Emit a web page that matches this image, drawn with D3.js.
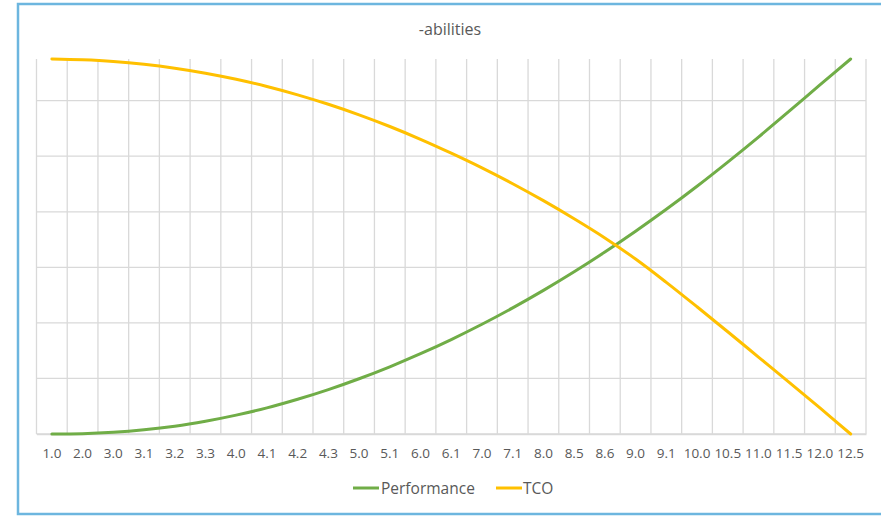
<!DOCTYPE html>
<html><head><meta charset="utf-8">
<script src="https://cdn.jsdelivr.net/npm/d3@7"></script>
<style>body{margin:0;background:#fff}svg{display:block}</style>
</head><body>
<svg id="c" width="881" height="517"></svg>
<script>
const title = "-abilities";
const categories = ["1.0","2.0","3.0","3.1","3.2","3.3","4.0","4.1","4.2","4.3","5.0","5.1","6.0","6.1","7.0","7.1","8.0","8.5","8.6","9.0","9.1","10.0","10.5","11.0","11.5","12.0","12.5"];
const performance = [0,0.01,0.06,0.15,0.28,0.46,0.68,0.94,1.25,1.60,1.99,2.42,2.89,3.40,3.95,4.54,5.17,5.84,6.55,7.30,8.09,8.92,9.79,10.69,11.62,12.57,13.5];
const tco = [13.5,13.47,13.41,13.31,13.17,12.99,12.77,12.51,12.21,11.87,11.49,11.07,10.61,10.11,9.58,9.01,8.40,7.75,7.06,6.30,5.46,4.58,3.68,2.77,1.86,0.94,0];
const yTicks = [0,2,4,6,8,10,12];
const seriesNames = ["Performance","TCO"];
const colors = ["#70ad47","#ffc000"];

const svg = d3.select("#c");
const font = "'Open Sans', sans-serif";

svg.append("rect").attr("x",18).attr("y",4).attr("width",900).attr("height",510)
  .attr("fill","#fff").attr("stroke","#6db6df").attr("stroke-width",2.5);

const x = d3.scaleBand().domain(categories).range([36.5,866]).padding(0);
const y = d3.scaleLinear().domain([0,13.5]).range([434,59]);

svg.append("text").attr("x",450).attr("y",35).attr("text-anchor","middle")
  .attr("font-family",font).attr("font-size",16).attr("fill","#595959").text(title);

const g = svg.append("g");
g.selectAll(".hg").data(yTicks).join("line")
  .attr("x1",36.5).attr("x2",866).attr("y1",d=>y(d)).attr("y2",d=>y(d))
  .attr("stroke","#d9d9d9").attr("stroke-width",1.3);
const bounds = categories.map(c=>x(c)).concat([x(categories[categories.length-1])+x.bandwidth()]);
g.selectAll(".vg").data(bounds).join("line")
  .attr("x1",d=>d).attr("x2",d=>d).attr("y1",y(13.5)).attr("y2",y(0))
  .attr("stroke","#d9d9d9").attr("stroke-width",1.3);

const xAxis = d3.axisBottom(x).tickSize(0).tickPadding(14);
const ax = svg.append("g").attr("transform",`translate(0,${y(0)})`).call(xAxis);
ax.select(".domain").attr("stroke","#d9d9d9").attr("stroke-width",1.3);
ax.selectAll("text").attr("font-family",font).attr("font-size",13.5).attr("fill","#595959");

const line = d3.line().x((d,i)=>x(categories[i])+x.bandwidth()/2).y(d=>y(d)).curve(d3.curveCatmullRom.alpha(0.5));
[performance,tco].forEach((s,k)=>{
  svg.append("path").datum(s).attr("d",line).attr("fill","none")
    .attr("stroke",colors[k]).attr("stroke-width",3).attr("stroke-linecap","round");
});

const leg = [{x:353,tx:381},{x:496,tx:523}];
seriesNames.forEach((n,k)=>{
  svg.append("line").attr("x1",leg[k].x).attr("x2",leg[k].x+26).attr("y1",488).attr("y2",488)
    .attr("stroke",colors[k]).attr("stroke-width",3);
  svg.append("text").attr("x",leg[k].tx).attr("y",493.5).attr("font-family",font)
    .attr("font-size",15.5).attr("fill","#595959").text(n);
});
</script>
</body></html>
